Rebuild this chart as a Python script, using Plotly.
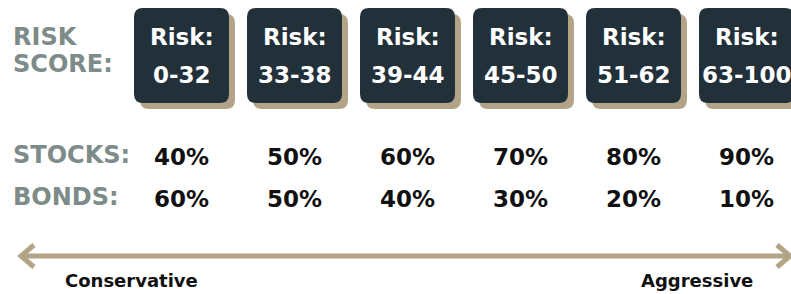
import plotly.graph_objects as go

risk_ranges = ["0-32", "33-38", "39-44", "45-50", "51-62", "63-100"]
stocks = ["40%", "50%", "60%", "70%", "80%", "90%"]
bonds = ["60%", "50%", "40%", "30%", "20%", "10%"]
row_labels = ["STOCKS:", "BONDS:"]

W, H = 791, 294
x0, step, bw = 134, 113, 95
top, bot = 8, 103
shadow = 6
r = 9

def rrect(xa, ya, xb, yb, r):
    return (f"M {xa+r},{ya} L {xb-r},{ya} Q {xb},{ya} {xb},{ya+r} "
            f"L {xb},{yb-r} Q {xb},{yb} {xb-r},{yb} L {xa+r},{yb} "
            f"Q {xa},{yb} {xa},{yb-r} L {xa},{ya+r} Q {xa},{ya} {xa+r},{ya} Z")

fig = go.Figure()
shapes = []
annotations = []
dark = "#22303a"
tan = "#b4a487"
grey = "#7d8b89"
font = "DejaVu Sans"

for i, rng in enumerate(risk_ranges):
    xa = x0 + i * step
    xb = xa + bw
    cx = (xa + xb) / 2
    shapes.append(dict(type="path", path=rrect(xa + shadow, top + shadow, xb + shadow, bot + shadow, r),
                       fillcolor=tan, line=dict(width=0), xref="x", yref="y", layer="below"))
    shapes.append(dict(type="path", path=rrect(xa, top, xb, bot, r),
                       fillcolor=dark, line=dict(width=0), xref="x", yref="y", layer="below"))
    annotations.append(dict(x=cx, y=37, text="Risk:", showarrow=False, xref="x", yref="y",
                            font=dict(family=font, size=23, color="white", weight=600)))
    annotations.append(dict(x=cx, y=75, text=rng, showarrow=False, xref="x", yref="y",
                            font=dict(family=font, size=23, color="white", weight=600)))
    annotations.append(dict(x=cx, y=157, text=stocks[i], showarrow=False, xref="x", yref="y",
                            font=dict(family=font, size=23, color="#111111", weight=600)))
    annotations.append(dict(x=cx, y=199, text=bonds[i], showarrow=False, xref="x", yref="y",
                            font=dict(family=font, size=23, color="#111111", weight=600)))

annotations.append(dict(x=11, y=37, text="<b>RISK</b>", showarrow=False, xref="x", yref="y", xanchor="left",
                        font=dict(family=font, size=24, color=grey)))
annotations.append(dict(x=11, y=64, text="<b>SCORE:</b>", showarrow=False, xref="x", yref="y", xanchor="left",
                        font=dict(family=font, size=24, color=grey)))
annotations.append(dict(x=11, y=155, text="<b>" + row_labels[0] + "</b>", showarrow=False, xref="x", yref="y",
                        xanchor="left", font=dict(family=font, size=24, color=grey)))
annotations.append(dict(x=11, y=197, text="<b>" + row_labels[1] + "</b>", showarrow=False, xref="x", yref="y",
                        xanchor="left", font=dict(family=font, size=24, color=grey)))
annotations.append(dict(x=131, y=280, text="<b>Conservative</b>", showarrow=False, xref="x", yref="y",
                        font=dict(family=font, size=18, color="#111111")))
annotations.append(dict(x=697, y=280, text="<b>Aggressive</b>", showarrow=False, xref="x", yref="y",
                        font=dict(family=font, size=18, color="#111111")))

ay = 256
fig.add_trace(go.Scatter(x=[21, 791], y=[ay, ay], mode="lines",
                         line=dict(color=tan, width=5), hoverinfo="skip"))
fig.add_trace(go.Scatter(x=[34, 21, 34], y=[ay - 11, ay, ay + 11], mode="lines",
                         line=dict(color=tan, width=5), hoverinfo="skip"))
fig.add_trace(go.Scatter(x=[777, 790, 777], y=[ay - 11, ay, ay + 11], mode="lines",
                         line=dict(color=tan, width=5), hoverinfo="skip"))

fig.update_layout(
    width=W, height=H, margin=dict(l=0, r=0, t=0, b=0),
    paper_bgcolor="white", plot_bgcolor="white", showlegend=False,
    xaxis=dict(range=[0, W], visible=False, fixedrange=True),
    yaxis=dict(range=[H, 0], visible=False, fixedrange=True),
    shapes=shapes, annotations=annotations,
)
fig.write_html("out.html", config={"displayModeBar": False},
               post_script="document.body.style.margin='0px';document.body.style.overflow='hidden';")
